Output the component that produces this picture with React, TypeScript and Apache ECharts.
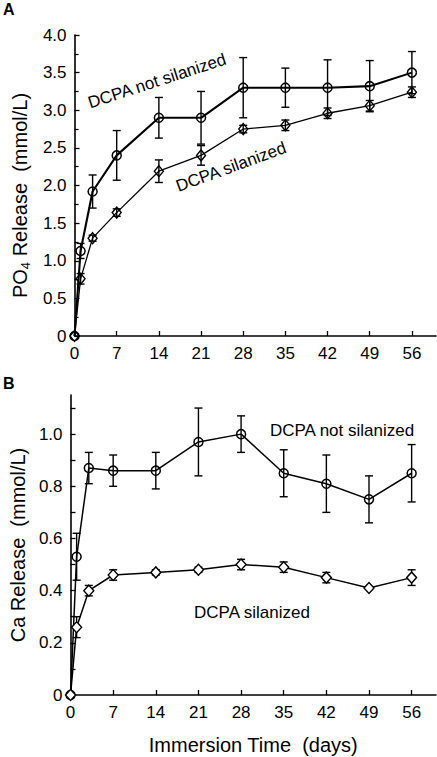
import React, { useEffect, useRef } from 'react';
import * as echarts from 'echarts';

const days = [0, 1, 3, 7, 14, 21, 28, 35, 42, 49, 56];

const po4NotSilanized = [0, 1.13, 1.92, 2.40, 2.90, 2.90, 3.30, 3.30, 3.30, 3.32, 3.50];
const po4NotSilanizedErr = [0, 0.10, 0.22, 0.33, 0.27, 0.35, 0.40, 0.26, 0.37, 0.34, 0.28];
const po4Silanized = [0, 0.76, 1.30, 1.64, 2.19, 2.40, 2.75, 2.80, 2.96, 3.06, 3.24];
const po4SilanizedErr = [0, 0.07, 0.04, 0.05, 0.15, 0.13, 0.05, 0.07, 0.07, 0.07, 0.07];

const caNotSilanized = [0, 0.53, 0.87, 0.86, 0.86, 0.97, 1.00, 0.85, 0.81, 0.75, 0.85];
const caNotSilanizedErr = [0, 0.09, 0.06, 0.06, 0.07, 0.13, 0.07, 0.09, 0.11, 0.09, 0.11];
const caSilanized = [0, 0.26, 0.40, 0.46, 0.47, 0.48, 0.50, 0.49, 0.45, 0.41, 0.45];
const caSilanizedErr = [0, 0.04, 0.02, 0.02, 0.01, 0.01, 0.02, 0.02, 0.02, 0, 0.03];

const xTickValues = [0, 7, 14, 21, 28, 35, 42, 49, 56];
const caLabelValues = [0, 0.2, 0.4, 0.6, 0.8, 1.0];
const caTickValues = [0, 0.1, 0.2, 0.3, 0.4, 0.5, 0.6, 0.7, 0.8, 0.9, 1.0, 1.1];

const labelNot = 'DCPA not silanized';
const labelSil = 'DCPA silanized';
const xTitle = 'Immersion Time  (days)';

const FONT = "'Liberation Sans', Arial, Helvetica, sans-serif";

function pairs(vals: number[]) {
  return days.map((d, i) => [d, vals[i]]);
}
function errs(vals: number[], err: number[]) {
  return days
    .map((d, i) => [d, vals[i] - err[i], vals[i] + err[i], err[i]])
    .filter((r) => r[3] > 0);
}

const errorRender = (params: any, api: any) => {
  const x = api.value(0);
  const lo = api.coord([x, api.value(1)]);
  const hi = api.coord([x, api.value(2)]);
  const hw = 4;
  const style = { stroke: '#000', lineWidth: 1.4, fill: 'none' };
  return {
    type: 'group',
    children: [
      { type: 'line', shape: { x1: lo[0], y1: lo[1], x2: hi[0], y2: hi[1] }, style },
      { type: 'line', shape: { x1: lo[0] - hw, y1: lo[1], x2: lo[0] + hw, y2: lo[1] }, style },
      { type: 'line', shape: { x1: hi[0] - hw, y1: hi[1], x2: hi[0] + hw, y2: hi[1] }, style },
    ],
  };
};

function xAxisCfg(gridIndex: number, withName: boolean) {
  return {
    type: 'value',
    gridIndex,
    min: 0,
    max: 60,
    name: withName ? xTitle : '',
    nameLocation: 'middle',
    nameGap: 40,
    nameTextStyle: { fontSize: 20, color: '#000', fontFamily: FONT },
    axisLine: { show: true, onZero: false, lineStyle: { color: '#000', width: 1.6 } },
    axisTick: { show: true, inside: true, length: 5, customValues: xTickValues, lineStyle: { color: '#000', width: 1.3 } },
    axisLabel: { customValues: xTickValues, fontSize: 17, color: '#000', margin: 9, fontFamily: FONT },
    splitLine: { show: false },
  };
}

export default function App() {
  const ref = useRef<HTMLDivElement>(null);
  useEffect(() => {
    document.body.style.margin = '0';
    if (!ref.current) return;
    const chart = echarts.init(ref.current, undefined, { renderer: 'svg' });
    const lineCommon = {
      type: 'line',
      showSymbol: true,
      symbolKeepAspect: true,
      silent: true,
      z: 3,
    };
    const circleItem = { color: 'rgba(0,0,0,0)', borderColor: '#000', borderWidth: 1.5 };
    const diamondItem = { color: 'rgba(0,0,0,0)', borderColor: '#000', borderWidth: 1.4 };

    chart.setOption({
      animation: false,
      textStyle: { fontFamily: FONT },
      grid: [
        { left: 62, width: 374, top: 35, height: 301 },
        { left: 62, width: 374, top: 395, height: 300 },
      ],
      xAxis: [xAxisCfg(0, false), xAxisCfg(1, true)],
      yAxis: [
        {
          type: 'value',
          gridIndex: 0,
          min: 0,
          max: 4,
          interval: 0.5,
          name: 'PO{s|4} Release  (mmol/L)',
          nameLocation: 'middle',
          nameGap: 29,
          nameTextStyle: {
            fontSize: 20,
            color: '#000',
            fontFamily: FONT,
            lineHeight: 24,
            padding: [0, 20, 0, 0],
            rich: { s: { fontSize: 13, verticalAlign: 'bottom', lineHeight: 24, color: '#000', fontFamily: FONT } },
          },
          axisLine: { show: true, lineStyle: { color: '#000', width: 1.6 } },
          axisTick: { show: true, inside: true, length: 5, lineStyle: { color: '#000', width: 1.3 } },
          minorTick: { show: true, splitNumber: 2, length: 4, lineStyle: { color: '#000', width: 1.2 } },
          axisLabel: {
            fontSize: 17,
            color: '#000',
            margin: 8,
            fontFamily: FONT,
            formatter: (v: number) => (v === 0 ? '0' : v.toFixed(1)),
          },
          splitLine: { show: false },
        },
        {
          type: 'value',
          gridIndex: 1,
          min: 0,
          max: 1.15,
          name: 'Ca Release  (mmol/L)',
          nameLocation: 'middle',
          nameGap: 30,
          nameTextStyle: { fontSize: 20, color: '#000', fontFamily: FONT },
          axisLine: { show: true, lineStyle: { color: '#000', width: 1.6 } },
          axisTick: { show: true, inside: true, length: 5, customValues: caTickValues, lineStyle: { color: '#000', width: 1.3 } },
          axisLabel: {
            customValues: caLabelValues,
            fontSize: 17,
            color: '#000',
            margin: 8,
            fontFamily: FONT,
            formatter: (v: number) => (v === 0 ? '0' : v.toFixed(1)),
          },
          splitLine: { show: false },
        },
      ],
      graphic: [
        { type: 'text', left: 3, top: 1, style: { text: 'A', fontSize: 16, fontWeight: 'bold', fill: '#000', fontFamily: FONT } },
        { type: 'text', left: 3, top: 375, style: { text: 'B', fontSize: 16, fontWeight: 'bold', fill: '#000', fontFamily: FONT } },
        {
          type: 'text', x: 157, y: 81, rotation: (18 * Math.PI) / 180,
          style: { text: labelNot, fontSize: 17, fill: '#000', fontFamily: FONT, align: 'center', verticalAlign: 'middle' },
        },
        {
          type: 'text', x: 231, y: 167, rotation: (20 * Math.PI) / 180,
          style: { text: labelSil, fontSize: 17, fill: '#000', fontFamily: FONT, align: 'center', verticalAlign: 'middle' },
        },
        {
          type: 'text', x: 342, y: 430,
          style: { text: labelNot, fontSize: 17, fill: '#000', fontFamily: FONT, align: 'center', verticalAlign: 'middle' },
        },
        {
          type: 'text', x: 252, y: 612,
          style: { text: labelSil, fontSize: 17, fill: '#000', fontFamily: FONT, align: 'center', verticalAlign: 'middle' },
        },
      ],
      series: [
        { type: 'custom', xAxisIndex: 0, yAxisIndex: 0, renderItem: errorRender, data: errs(po4NotSilanized, po4NotSilanizedErr), z: 2, silent: true },
        { type: 'custom', xAxisIndex: 0, yAxisIndex: 0, renderItem: errorRender, data: errs(po4Silanized, po4SilanizedErr), z: 2, silent: true },
        { type: 'custom', xAxisIndex: 1, yAxisIndex: 1, renderItem: errorRender, data: errs(caNotSilanized, caNotSilanizedErr), z: 2, silent: true },
        { type: 'custom', xAxisIndex: 1, yAxisIndex: 1, renderItem: errorRender, data: errs(caSilanized, caSilanizedErr), z: 2, silent: true },
        {
          ...lineCommon, name: labelNot, xAxisIndex: 0, yAxisIndex: 0, data: pairs(po4NotSilanized),
          symbol: 'circle', symbolSize: 9, itemStyle: circleItem, lineStyle: { color: '#000', width: 2.1 },
        },
        {
          ...lineCommon, name: labelSil, xAxisIndex: 0, yAxisIndex: 0, data: pairs(po4Silanized),
          symbol: 'diamond', symbolSize: [9, 11], itemStyle: diamondItem, lineStyle: { color: '#000', width: 1.3 },
        },
        {
          ...lineCommon, name: labelNot, xAxisIndex: 1, yAxisIndex: 1, data: pairs(caNotSilanized),
          symbol: 'circle', symbolSize: 9, itemStyle: circleItem, lineStyle: { color: '#000', width: 1.5 },
        },
        {
          ...lineCommon, name: labelSil, xAxisIndex: 1, yAxisIndex: 1, data: pairs(caSilanized),
          symbol: 'diamond', symbolSize: [10, 11], itemStyle: { ...diamondItem, color: '#fff' }, lineStyle: { color: '#000', width: 1.5 },
        },
      ],
    });
    return () => chart.dispose();
  }, []);
  return <div ref={ref} style={{ width: 437, height: 757 }} />;
}
